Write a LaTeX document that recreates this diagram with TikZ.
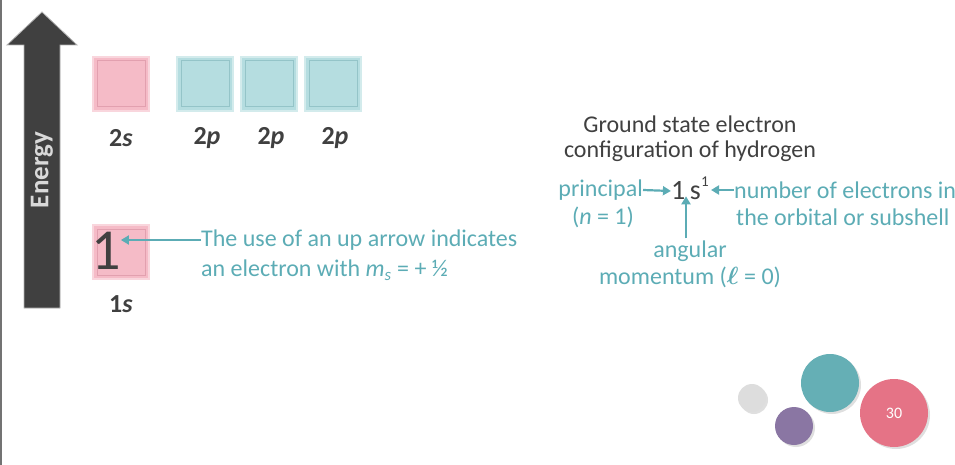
\documentclass[tikz,border=0pt]{standalone}
\usepackage{amsmath}
\usepackage{fontspec}
\setmainfont{Carlito}
\usetikzlibrary{arrows.meta,shadows}

\definecolor{darkfill}{RGB}{64,64,64}
\definecolor{darktext}{RGB}{64,64,64}
\definecolor{tealtext}{RGB}{92,172,181}
\definecolor{sfill}{RGB}{245,187,199}
\definecolor{sedge}{RGB}{226,160,175}
\definecolor{pfill}{RGB}{181,221,224}
\definecolor{pedge}{RGB}{148,196,200}
\definecolor{dotgrey}{RGB}{221,221,221}
\definecolor{dotpurple}{RGB}{138,118,163}
\definecolor{dotteal}{RGB}{101,175,181}
\definecolor{dotpink}{RGB}{229,115,134}

\begin{document}
\begin{tikzpicture}[
    x=1pt, y=-1pt,
    % orbital boxes (bevelled look)
    orb/.style={minimum width=56pt, minimum height=54pt, inner sep=0pt, line width=1.2pt},
    sorb/.style={orb, fill=sfill, draw=sfill!60,
                 path picture={\draw[sedge, line width=1pt]
                   ([shift={(4pt,-4pt)}]path picture bounding box.north west) rectangle
                   ([shift={(-4pt,4pt)}]path picture bounding box.south east);}},
    porb/.style={orb, fill=pfill, draw=pfill!60,
                 path picture={\draw[pedge, line width=1pt]
                   ([shift={(4pt,-4pt)}]path picture bounding box.north west) rectangle
                   ([shift={(-4pt,4pt)}]path picture bounding box.south east);}},
    olabel/.style={font=\fontsize{26}{28}\selectfont\bfseries, text=darktext, inner sep=0pt},
    note/.style={font=\fontsize{24}{27}\selectfont, text=tealtext, inner sep=0pt},
    darknote/.style={font=\fontsize{24}{25}\selectfont, text=darktext, inner sep=0pt},
    tarr/.style={-{Triangle[length=8pt,width=9pt]}, line width=2.2pt, tealtext},
    dot/.style={circle, inner sep=0pt,
                drop shadow={opacity=0.25, shadow xshift=2pt, shadow yshift=-2pt}}
  ]
  \useasboundingbox (0,0) rectangle (955,465);
  \draw[black!55, line width=1.5pt] (1,0) -- (1,465);

  % energy arrow
  \draw[fill=darkfill, draw=black!30, line width=0.8pt]
    (42,12) -- (77,45) -- (60,45) -- (60,308) -- (24,308) -- (24,45) -- (7,45) -- cycle;
  \node[rotate=90, font=\fontsize{27}{28}\selectfont\bfseries, text=black!15] (energy) at (42,170) {Energy};

  % orbitals
  \node[sorb] (box2s) at (121,84) {};
  \node[porb] (box2pa) at (205,84) {};
  \node[porb] (box2pb) at (269,84) {};
  \node[porb] (box2pc) at (333,84) {};
  \node[sorb] (box1s) at (121,252) {};
  \node[font=\fontsize{58}{58}\selectfont, text=darktext, inner sep=0pt] (upglyph) at (106,251) {1};

  \node[olabel] (lab2s) at (121,138) {2\textit{s}};
  \node[olabel] (lab2pa) at (207,138) {2\textit{p}};
  \node[olabel] (lab2pb) at (271,138) {2\textit{p}};
  \node[olabel] (lab2pc) at (335,138) {2\textit{p}};
  \node[olabel] (lab1s) at (121,304) {1\textit{s}};

  % up arrow note
  \node[note, anchor=west] (use1) at (201,240) {The use of an up arrow indicates};
  \node[note, anchor=west] (use2) at (201,270) {an electron with \textit{m}\textsubscript{\textit{s}} = + ½};
  \draw[tarr] (use1.west) -- (use1.west -| upglyph.east);

  % ground state configuration
  \node[darknote, align=center] (ground) at (690,139) {Ground state electron\\configuration of hydrogen};
  \node[font=\fontsize{28}{28}\selectfont, text=darktext, inner sep=0pt] (cfg) at (686,191) {1\,s};
  \node[font=\fontsize{15}{15}\selectfont, text=darktext, inner sep=0pt] (sup) at (705,182) {1};
  \node[note, anchor=east] (princ) at (643,190) {principal};
  \node[note] (nval) at (603,217) {(\textit{n} = 1)};
  \node[note, anchor=west] (num) at (734,190) {number of electrons in};
  \node[note, anchor=west] (orbtext) at (736,217) {the orbital or subshell};
  \node[note, align=center] (ang) at (690,264) {angular\\momentum ($\boldsymbol{\ell}$ = 0)};
  \draw[tarr] (princ.east) -- (cfg.west);
  \draw[tarr] (num.west) -- ([xshift=2pt]sup.east |- num.west);
  \draw[tarr] ([yshift=2pt]ang.north -| cfg.south) -- ([yshift=4pt]cfg.south);

  % decorative dots
  \node[dot, fill=dotgrey, minimum size=28pt] (dgrey) at (752,398) {};
  \node[dot, fill=dotpurple, minimum size=38pt] (dpurple) at (794,426) {};
  \node[dot, fill=dotteal, minimum size=58pt] (dteal) at (830,383) {};
  \node[dot, fill=dotpink, minimum size=68pt, text=white,
        font=\fontsize{16}{16}\selectfont] (dpink) at (894,413) {30};
\end{tikzpicture}
\end{document}
